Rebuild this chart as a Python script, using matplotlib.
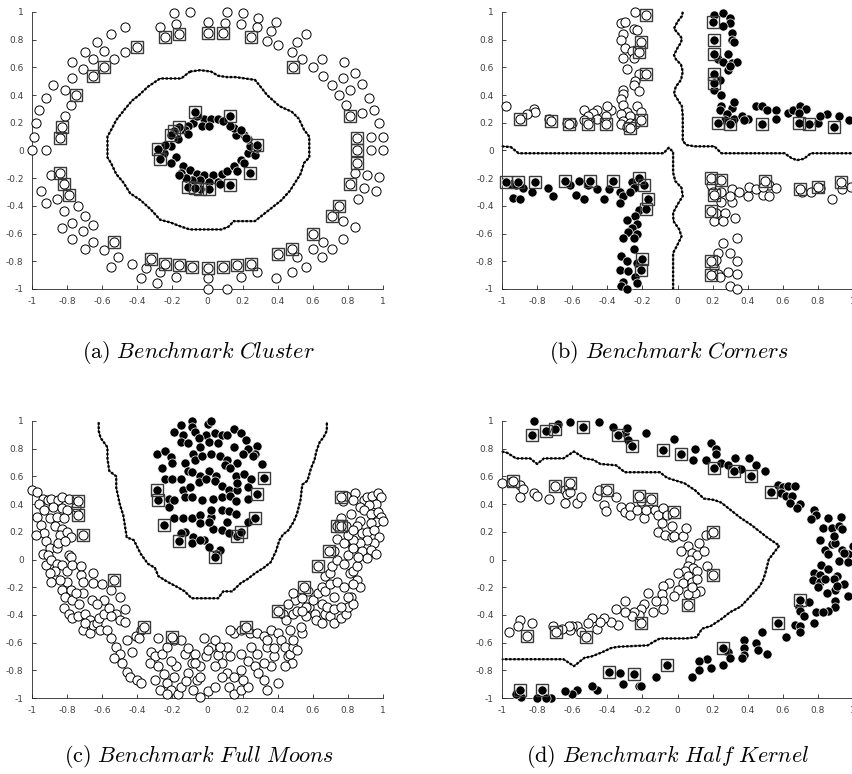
import numpy as np
import matplotlib
matplotlib.use('Agg')
import matplotlib.pyplot as plt

plt.rcParams['mathtext.fontset'] = 'cm'

# ---------------- data ----------------
tick_vals = [-1, -0.8, -0.6, -0.4, -0.2, 0, 0.2, 0.4, 0.6, 0.8, 1]
tick_labels = ['-1', '-0.8', '-0.6', '-0.4', '-0.2', '0', '0.2', '0.4', '0.6', '0.8', '1']

captions = [r'$\mathrm{(a)}\ Benchmark\ Cluster$',
            r'$\mathrm{(b)}\ Benchmark\ Corners$',
            r'$\mathrm{(c)}\ Benchmark\ Full\ Moons$',
            r'$\mathrm{(d)}\ Benchmark\ Half\ Kernel$']

# (a) cluster
a_white = [(-0.19, 0.99), (-0.10, 1.0), (0.11, 1.0), (0.20, 0.99), (0.29, 0.96), (0.39, 0.93), (0.0, 0.93),
           (-0.27, 0.89), (-0.18, 0.91), (0.10, 0.92), (0.19, 0.91), (0.28, 0.89), (-0.47, 0.89), (-0.55, 0.84),
           (0.36, 0.86), (0.34, 0.79), (0.40, 0.76), (0.56, 0.84), (0.51, 0.78), (-0.47, 0.71), (-0.63, 0.78),
           (-0.59, 0.72), (-0.70, 0.71), (-0.65, 0.66), (-0.53, 0.66), (-0.77, 0.64), (-0.71, 0.59), (0.48, 0.71),
           (0.54, 0.66), (0.65, 0.66), (0.60, 0.60), (0.66, 0.54), (0.78, 0.64), (0.84, 0.56), (0.77, 0.52),
           (0.71, 0.47), (0.81, 0.44), (0.88, 0.48), (0.92, 0.38), (0.75, 0.40), (0.79, 0.33), (0.95, 0.29),
           (0.88, 0.27), (0.98, 0.20), (0.93, 0.10), (1.0, 0.10), (0.93, 0.0), (1.0, 0.0), (0.84, -0.16),
           (0.91, -0.18), (0.98, -0.19), (0.89, -0.27), (0.96, -0.29), (0.86, -0.35), (0.77, -0.51), (0.84, -0.55),
           (0.77, -0.64), (0.71, -0.71), (0.66, -0.66), (0.65, -0.77), (0.60, -0.71), (0.56, -0.84), (0.51, -0.77),
           (0.48, -0.88), (0.39, -0.92), (0.19, -0.91), (0.28, -0.88), (0.0, -0.92), (0.0, -1.0), (0.11, -1.0),
           (-0.18, -0.91), (-0.27, -0.88), (-0.29, -0.96), (-0.38, -0.92), (-0.35, -0.85), (-0.43, -0.82),
           (-0.55, -0.84), (-0.51, -0.77), (-0.59, -0.72), (-0.65, -0.66), (-0.70, -0.71), (-0.71, -0.58),
           (-0.77, -0.64), (-0.65, -0.54), (-0.70, -0.47), (-0.77, -0.52), (-0.83, -0.56), (-0.74, -0.40),
           (-0.82, -0.44), (-0.86, -0.35), (-0.92, -0.38), (-0.95, -0.29), (-0.89, -0.18), (-0.92, 0.0),
           (-1.0, 0.0), (-0.99, 0.10), (-0.98, 0.20), (-0.96, 0.29), (-0.92, 0.38), (-0.88, 0.47), (-0.81, 0.25),
           (-0.78, 0.33), (-0.77, 0.52), (-0.81, 0.44)]
a_white_sv = [(-0.24, 0.82), (-0.16, 0.84), (0.0, 0.85), (0.09, 0.85), (0.25, 0.82), (-0.40, 0.75), (-0.59, 0.60),
              (-0.65, 0.54), (0.49, 0.60), (0.81, 0.25), (0.85, 0.09), (0.85, 0.0), (0.85, -0.09), (0.81, -0.24),
              (0.75, -0.40), (0.71, -0.47), (0.60, -0.60), (0.48, -0.71), (0.40, -0.75), (0.25, -0.82),
              (0.17, -0.83), (0.09, -0.84), (0.0, -0.85), (-0.09, -0.84), (-0.16, -0.83), (-0.24, -0.82),
              (-0.32, -0.78), (-0.53, -0.66), (-0.79, -0.32), (-0.82, -0.24), (-0.84, -0.16), (-0.84, 0.09),
              (-0.83, 0.17), (-0.75, 0.40)]
a_black = [(-0.02, 0.23), (0.02, 0.23), (0.06, 0.23), (-0.03, 0.18), (0.01, 0.18), (-0.08, 0.20), (-0.11, 0.18),
           (-0.13, 0.15), (-0.17, 0.08), (-0.21, 0.03), (-0.18, -0.05), (-0.21, -0.09), (-0.14, -0.11),
           (-0.15, -0.16), (-0.10, -0.14), (-0.06, -0.17), (-0.02, -0.18), (0.03, -0.18), (0.08, -0.17),
           (0.11, -0.15), (0.15, -0.11), (0.19, -0.07), (0.23, -0.02), (0.24, 0.03), (0.23, 0.08), (0.21, 0.11),
           (0.16, 0.11), (0.15, 0.16), (0.13, 0.18), (0.09, 0.21), (0.19, 0.15), (0.22, 0.09), (0.27, -0.03),
           (0.21, -0.09), (0.17, -0.15), (0.06, -0.23), (0.01, -0.23), (-0.04, -0.21), (-0.09, -0.21),
           (-0.12, -0.20), (-0.16, -0.18), (-0.25, -0.02), (-0.24, 0.04), (-0.11, 0.12), (-0.06, 0.25),
           (0.07, -0.24), (0.28, 0.02)]
a_black_sv = [(-0.07, 0.28), (0.13, 0.25), (-0.16, 0.17), (-0.19, 0.14), (-0.21, 0.11), (-0.28, 0.01),
              (-0.27, -0.06), (0.28, 0.04), (0.24, -0.16), (0.13, -0.25), (0.01, -0.28), (-0.04, -0.28),
              (-0.11, -0.26), (-0.07, -0.27)]
a_bound = [(-0.10, 0.57), (-0.04, 0.58), (0.02, 0.57), (0.06, 0.54), (0.11, 0.53), (0.16, 0.53), (0.27, 0.51),
           (0.29, 0.48), (0.34, 0.40), (0.41, 0.32), (0.48, 0.28), (0.52, 0.23), (0.55, 0.15), (0.58, 0.10),
           (0.58, -0.05), (0.55, -0.09), (0.53, -0.17), (0.47, -0.29), (0.42, -0.36), (0.37, -0.41),
           (0.30, -0.48), (0.27, -0.51), (0.15, -0.51), (0.12, -0.55), (0.08, -0.57), (-0.10, -0.57),
           (-0.15, -0.55), (-0.21, -0.52), (-0.27, -0.50), (-0.32, -0.43), (-0.38, -0.36), (-0.44, -0.31),
           (-0.48, -0.23), (-0.52, -0.17), (-0.55, -0.09), (-0.57, -0.05), (-0.57, 0.10), (-0.54, 0.17),
           (-0.52, 0.22), (-0.47, 0.30), (-0.43, 0.36), (-0.39, 0.40), (-0.34, 0.46), (-0.27, 0.52),
           (-0.15, 0.52), (-0.10, 0.57)]

# (b) corners
b_white = [(-0.24, 1.0), (-0.32, 0.92), (-0.30, 0.93), (-0.25, 0.88), (-0.23, 0.87), (-0.31, 0.84),
           (-0.32, 0.80), (-0.30, 0.74), (-0.26, 0.72), (-0.31, 0.67), (-0.25, 0.67), (-0.29, 0.59),
           (-0.22, 0.55), (-0.24, 0.50), (-0.25, 0.47), (-0.31, 0.44), (-0.31, 0.41), (-0.22, 0.43),
           (-0.32, 0.37), (-0.31, 0.33), (-0.29, 0.28), (-0.23, 0.32), (-0.21, 0.28), (-0.32, 0.26),
           (-0.27, 0.25), (-0.31, 0.21), (-0.27, 0.20), (-0.32, 0.19), (-0.29, 0.17), (-0.24, 0.19),
           (-0.38, 0.29), (-0.41, 0.25), (-0.46, 0.29), (-0.48, 0.27), (-0.53, 0.29), (-0.51, 0.25),
           (-0.53, 0.22), (-0.46, 0.23), (-0.63, 0.20), (-0.60, 0.20), (-0.73, 0.23), (-0.82, 0.30),
           (-0.81, 0.28), (-0.86, 0.26), (-0.98, 0.32), (-0.40, 0.32), (0.19, -0.25), (0.20, -0.30),
           (0.25, -0.30), (0.31, -0.28), (0.25, -0.37), (0.31, -0.37), (0.35, -0.30), (0.30, -0.33),
           (0.40, -0.33), (0.41, -0.26), (0.45, -0.28), (0.49, -0.32), (0.52, -0.33), (0.52, -0.25),
           (0.56, -0.27), (0.49, -0.26), (0.71, -0.30), (0.76, -0.30), (0.81, -0.27), (0.88, -0.35),
           (0.94, -0.28), (0.99, -0.26), (0.21, -0.51), (0.22, -0.45), (0.27, -0.45), (0.26, -0.51),
           (0.33, -0.49), (0.34, -0.63), (0.26, -0.67), (0.23, -0.74), (0.30, -0.74), (0.34, -0.80),
           (0.21, -0.84), (0.22, -0.79), (0.23, -0.89), (0.29, -0.88), (0.34, -0.89), (0.24, -0.91),
           (0.30, -0.98), (0.34, -1.0)]
b_white_sv = [(-0.18, 0.98), (-0.21, 0.78), (-0.22, 0.71), (-0.18, 0.55), (-0.21, 0.22), (-0.27, 0.16),
              (-0.41, 0.19), (-0.51, 0.19), (-0.62, 0.19), (-0.72, 0.21), (-0.90, 0.23), (0.19, -0.20),
              (0.25, -0.21), (0.21, -0.32), (0.50, -0.22), (0.70, -0.28), (0.80, -0.26), (0.93, -0.23),
              (0.19, -0.44), (0.19, -0.80), (0.19, -0.90)]
b_black = [(0.21, 0.98), (0.26, 0.99), (0.30, 0.96), (0.30, 0.92), (0.26, 0.90), (0.31, 0.85), (0.31, 0.80),
           (0.32, 0.78), (0.29, 0.70), (0.23, 0.66), (0.26, 0.64), (0.31, 0.63), (0.34, 0.64), (0.29, 0.58),
           (0.30, 0.61), (0.24, 0.51), (0.21, 0.44), (0.25, 0.40), (0.25, 0.32), (0.31, 0.31), (0.32, 0.35),
           (0.24, 0.29), (0.28, 0.26), (0.32, 0.23), (0.27, 0.22), (0.37, 0.25), (0.40, 0.23), (0.38, 0.22),
           (0.45, 0.32), (0.48, 0.32), (0.51, 0.29), (0.56, 0.29), (0.56, 0.23), (0.63, 0.27), (0.66, 0.29),
           (0.70, 0.32), (0.73, 0.30), (0.69, 0.27), (0.80, 0.20), (0.85, 0.26), (0.92, 0.25), (0.98, 0.22),
           (0.81, 0.25), (-0.95, -0.24), (-0.92, -0.25), (-0.94, -0.34), (-0.90, -0.35), (-0.88, -0.27),
           (-0.83, -0.30), (-0.74, -0.27), (-0.71, -0.33), (-0.61, -0.25), (-0.58, -0.32), (-0.56, -0.22),
           (-0.53, -0.35), (-0.51, -0.25), (-0.46, -0.28), (-0.42, -0.35), (-0.39, -0.28), (-0.33, -0.30),
           (-0.31, -0.33), (-0.33, -0.38), (-0.26, -0.23), (-0.25, -0.27), (-0.27, -0.30), (-0.22, -0.43),
           (-0.24, -0.47), (-0.29, -0.50), (-0.23, -0.53), (-0.26, -0.56), (-0.28, -0.59), (-0.23, -0.60),
           (-0.25, -0.63), (-0.31, -0.63), (-0.25, -0.71), (-0.32, -0.76), (-0.29, -0.80), (-0.23, -0.81),
           (-0.33, -0.86), (-0.28, -0.87), (-0.24, -0.91), (-0.31, -0.95), (-0.32, -0.98), (-0.29, -1.0),
           (-0.23, -0.96)]
b_black_sv = [(0.20, 0.93), (0.21, 0.80), (0.21, 0.70), (0.21, 0.55), (0.21, 0.49), (0.23, 0.20), (0.30, 0.19),
              (0.48, 0.19), (0.69, 0.20), (0.75, 0.19), (0.89, 0.17), (-0.98, -0.23), (-0.91, -0.23),
              (-0.81, -0.23), (-0.64, -0.22), (-0.50, -0.22), (-0.37, -0.22), (-0.22, -0.20), (-0.19, -0.25),
              (-0.17, -0.35), (-0.18, -0.42), (-0.20, -0.78), (-0.21, -0.86)]
b_bound1 = [(0.03, 1.0), (0.025, 0.97), (0.0, 0.93), (-0.02, 0.88), (0.0, 0.85), (0.025, 0.81), (0.02, 0.78),
            (0.0, 0.74), (-0.02, 0.69), (-0.01, 0.66), (0.02, 0.62), (0.03, 0.57), (0.02, 0.51), (-0.01, 0.46),
            (-0.02, 0.41), (0.0, 0.37), (0.025, 0.32), (0.03, 0.25), (0.03, 0.13), (0.03, 0.07), (0.05, 0.04),
            (0.10, 0.03), (0.21, 0.03), (0.25, -0.02), (0.61, -0.02), (0.65, -0.055), (0.68, -0.07),
            (0.72, -0.06), (0.76, -0.02), (1.01, -0.02)]
b_bound2 = [(-1.0, 0.03), (-0.95, 0.025), (-0.905, -0.02), (-0.08, -0.02), (-0.05, 0.02), (-0.025, -0.01),
            (-0.025, -0.16), (-0.013, -0.22), (0.023, -0.27), (0.03, -0.33), (0.0, -0.39), (-0.025, -0.45),
            (-0.023, -0.51), (0.01, -0.57), (0.023, -0.62), (0.0, -0.68), (-0.025, -0.74), (-0.025, -1.0)]

# (c) full moons
c_black = [(-0.15, 0.97), (-0.09, 1.0), (-0.09, 0.96), (0.0, 0.98), (0.02, 1.0), (-0.01, 0.90), (0.04, 0.91),
           (0.15, 0.94), (0.19, 0.91), (-0.19, 0.92), (-0.14, 0.90), (-0.07, 0.92), (-0.05, 0.88), (0.08, 0.90),
           (0.11, 0.90), (-0.29, 0.76), (-0.24, 0.78), (-0.21, 0.74), (-0.15, 0.85), (-0.11, 0.84),
           (-0.04, 0.81), (0.01, 0.85), (0.06, 0.84), (0.15, 0.81), (0.22, 0.86), (0.23, 0.80), (0.28, 0.82),
           (0.27, 0.76), (-0.26, 0.66), (-0.20, 0.70), (-0.13, 0.70), (-0.08, 0.76), (-0.07, 0.72),
           (-0.03, 0.75), (0.02, 0.76), (0.07, 0.75), (0.11, 0.72), (0.17, 0.70), (0.20, 0.76), (0.26, 0.75),
           (0.31, 0.69), (-0.24, 0.58), (-0.20, 0.58), (-0.15, 0.58), (-0.11, 0.64), (-0.09, 0.63),
           (-0.04, 0.60), (0.01, 0.64), (0.05, 0.60), (0.10, 0.68), (0.13, 0.66), (0.16, 0.60), (0.21, 0.62),
           (0.25, 0.58), (-0.22, 0.44), (-0.22, 0.38), (-0.14, 0.50), (-0.10, 0.52), (-0.05, 0.56),
           (-0.01, 0.58), (0.04, 0.57), (0.08, 0.53), (0.12, 0.50), (0.17, 0.50), (0.23, 0.44), (-0.13, 0.45),
           (-0.09, 0.45), (-0.03, 0.43), (0.03, 0.44), (0.08, 0.45), (0.13, 0.46), (0.16, 0.42), (0.17, 0.55),
           (-0.19, 0.30), (-0.14, 0.30), (-0.09, 0.30), (-0.04, 0.32), (0.02, 0.31), (0.08, 0.36), (0.12, 0.35),
           (0.16, 0.33), (0.23, 0.27), (0.02, 0.36), (-0.13, 0.20), (-0.08, 0.16), (-0.02, 0.14), (0.03, 0.22),
           (0.08, 0.21), (0.12, 0.19), (-0.09, 0.12), (-0.04, 0.14), (0.01, 0.09), (0.07, 0.07), (0.05, 0.04),
           (-0.15, 0.19), (-0.04, 0.26), (0.01, 0.27), (0.11, 0.27), (-0.19, 0.43), (0.23, 0.52)]
c_black_sv = [(-0.29, 0.50), (-0.28, 0.43), (0.32, 0.59), (0.28, 0.47), (-0.25, 0.25), (0.27, 0.30),
              (-0.16, 0.13), (0.17, 0.17), (0.19, 0.20), (0.04, 0.02)]
c_white = [(-1.0, 0.50), (-0.97, 0.49), (-0.94, 0.44), (-0.96, 0.40), (-0.91, 0.43), (-0.89, 0.44),
           (-0.85, 0.43), (-0.93, 0.36), (-0.88, 0.38), (-0.83, 0.37), (-0.83, 0.45), (-0.79, 0.44),
           (-0.75, 0.38), (-0.80, 0.36), (-0.90, 0.30), (-0.86, 0.31), (-0.82, 0.30), (-0.97, 0.31),
           (-0.95, 0.25), (-0.93, 0.19), (-0.87, 0.24), (-0.83, 0.22), (-0.84, 0.18), (-0.80, 0.20),
           (-0.78, 0.16), (-0.98, 0.18), (-0.92, 0.13), (-0.90, 0.08), (-0.94, 0.04), (-0.91, 0.03),
           (-0.86, 0.08), (-0.85, 0.12), (-0.79, 0.03), (-0.78, 0.02), (-0.81, 0.13), (-0.92, -0.04),
           (-0.89, 0.0), (-0.86, -0.03), (-0.87, -0.08), (-0.90, -0.10), (-0.83, -0.04), (-0.80, -0.08),
           (-0.77, -0.04), (-0.72, -0.05), (-0.72, -0.11), (-0.71, -0.16), (-0.80, -0.16), (-0.84, -0.15),
           (-0.89, -0.16), (-0.83, -0.22), (-0.78, -0.22), (-0.81, -0.27), (-0.77, -0.29), (-0.73, -0.32),
           (-0.71, -0.24), (-0.75, -0.24), (-0.82, -0.35), (-0.79, -0.39), (-0.77, -0.42), (-0.74, -0.41),
           (-0.70, -0.39), (-0.67, -0.44), (-0.71, -0.51), (-0.67, -0.53), (-0.65, -0.47), (-0.63, -0.46),
           (-0.61, -0.51), (-0.57, -0.51), (-0.62, -0.42), (-0.59, -0.39), (-0.56, -0.35), (-0.52, -0.39),
           (-0.50, -0.44), (-0.47, -0.45), (-0.59, -0.29), (-0.65, -0.17), (-0.60, -0.18), (-0.50, -0.27),
           (-0.55, -0.22), (-0.66, -0.29), (-0.63, -0.32), (-0.70, -0.46), (-0.65, -0.10), (-0.55, -0.41),
           (-0.47, -0.36), (-0.55, -0.57), (-0.52, -0.63), (-0.50, -0.68), (-0.53, -0.71), (-0.49, -0.75),
           (-0.46, -0.81), (-0.44, -0.85), (-0.40, -0.87), (-0.38, -0.89), (-0.43, -0.67), (-0.46, -0.58),
           (-0.41, -0.55), (-0.38, -0.51), (-0.39, -0.57), (-0.28, -0.57), (-0.32, -0.67), (-0.30, -0.70),
           (-0.33, -0.75), (-0.28, -0.77), (-0.26, -0.68), (-0.25, -0.83), (-0.23, -0.89), (-0.27, -0.94),
           (-0.30, -0.87), (-0.21, -0.94), (-0.17, -0.97), (-0.15, -0.92), (-0.19, -0.85), (-0.18, -0.77),
           (-0.21, -0.73), (-0.23, -0.63), (-0.19, -0.58), (-0.15, -0.58), (-0.13, -0.68), (-0.09, -0.75),
           (-0.11, -0.82), (-0.06, -0.87), (-0.08, -0.94), (-0.04, -0.99), (0.0, -0.95), (0.04, -0.92),
           (-0.04, -0.77), (-0.01, -0.70), (0.02, -0.63), (0.06, -0.69), (0.08, -0.75), (0.11, -0.82),
           (0.12, -0.92), (0.15, -0.97), (0.19, -0.94), (0.23, -0.92), (0.15, -0.85), (0.19, -0.80),
           (0.23, -0.73), (0.27, -0.77), (0.29, -0.82), (0.32, -0.87), (0.34, -0.94), (0.40, -0.89),
           (0.36, -0.77), (0.38, -0.70), (0.34, -0.63), (0.28, -0.68), (0.25, -0.63), (0.19, -0.68),
           (0.13, -0.70), (0.11, -0.63), (0.15, -0.53), (0.19, -0.51), (0.24, -0.53), (0.28, -0.53),
           (0.32, -0.55), (0.34, -0.58), (0.36, -0.51), (0.40, -0.53), (0.42, -0.58), (0.44, -0.63),
           (0.46, -0.70), (0.48, -0.75), (0.47, -0.68), (0.49, -0.63), (0.44, -0.77), (0.38, -0.64),
           (-0.02, -0.57), (0.04, -0.58), (0.07, -0.63), (0.0, -0.65), (-0.07, -0.68), (-0.11, -0.64),
           (0.13, -0.51), (-0.07, -0.75), (0.04, -0.77), (-0.04, -0.85), (-0.12, -0.88), (-0.23, -0.97),
           (0.08, -0.85), (0.20, -0.87), (0.32, -0.75), (0.43, -0.39), (0.45, -0.44), (0.47, -0.51),
           (0.49, -0.58), (0.51, -0.65), (0.54, -0.53), (0.53, -0.49), (0.50, -0.29), (0.49, -0.39),
           (0.46, -0.32), (0.51, -0.37), (0.56, -0.41), (0.58, -0.34), (0.60, -0.29), (0.61, -0.39),
           (0.62, -0.44), (0.65, -0.46), (0.67, -0.39), (0.70, -0.41), (0.72, -0.46), (0.76, -0.42),
           (0.79, -0.39), (0.65, -0.32), (0.68, -0.34), (0.72, -0.36), (0.80, -0.34), (0.76, -0.34),
           (0.63, -0.24), (0.65, -0.20), (0.67, -0.23), (0.70, -0.18), (0.74, -0.16), (0.78, -0.20),
           (0.82, -0.27), (0.83, -0.32), (0.80, -0.27), (0.72, -0.27), (0.67, -0.12), (0.70, -0.10),
           (0.71, -0.05), (0.74, 0.0), (0.78, -0.03), (0.81, -0.10), (0.83, -0.08), (0.85, -0.15),
           (0.87, -0.20), (0.83, -0.18), (0.72, 0.06), (0.83, 0.09), (0.80, 0.03), (0.85, -0.05), (0.74, 0.15),
           (0.78, 0.12), (0.57, -0.23), (0.54, -0.28), (0.56, -0.34), (0.49, -0.24), (0.54, -0.37),
           (0.76, 0.30), (0.79, 0.24), (0.77, 0.42), (0.79, 0.46), (0.84, 0.48), (0.89, 0.43), (0.91, 0.45),
           (0.94, 0.46), (0.97, 0.48), (0.99, 0.45), (0.96, 0.40), (0.92, 0.39), (0.87, 0.38), (0.89, 0.36),
           (0.93, 0.33), (0.97, 0.34), (0.99, 0.31), (0.96, 0.27), (0.93, 0.26), (0.87, 0.28), (0.85, 0.24),
           (0.88, 0.19), (0.91, 0.20), (0.95, 0.21), (0.98, 0.16), (0.95, 0.12), (0.91, 0.14), (0.87, 0.12),
           (0.83, 0.14), (0.80, 0.18), (0.83, 0.08), (0.88, 0.06), (0.93, 0.07), (0.96, 0.04), (1.0, 0.28),
           (0.83, 0.21), (0.91, 0.01), (0.86, 0.02), (0.82, 0.33), (0.83, 0.43)]
c_white_sv = [(-0.74, 0.42), (-0.74, 0.32), (-0.71, 0.18), (-0.53, -0.15), (-0.36, -0.49), (-0.20, -0.56),
              (0.22, -0.49), (0.40, -0.37), (0.55, -0.20), (0.63, -0.05), (0.69, 0.06), (0.74, 0.24),
              (0.76, 0.24), (0.76, 0.45)]
c_bound = [(-0.62, 0.99), (-0.62, 0.93), (-0.61, 0.88), (-0.57, 0.81), (-0.57, 0.73), (-0.56, 0.64),
           (-0.52, 0.60), (-0.52, 0.52), (-0.50, 0.40), (-0.48, 0.32), (-0.47, 0.24), (-0.46, 0.16),
           (-0.42, 0.14), (-0.40, 0.09), (-0.38, 0.04), (-0.34, -0.03), (-0.30, -0.06), (-0.28, -0.12),
           (-0.23, -0.16), (-0.17, -0.20), (-0.13, -0.23), (-0.09, -0.28), (0.06, -0.28), (0.09, -0.23),
           (0.14, -0.23), (0.19, -0.17), (0.23, -0.14), (0.27, -0.10), (0.32, -0.06), (0.36, -0.02),
           (0.39, 0.06), (0.41, 0.14), (0.43, 0.18), (0.46, 0.21), (0.49, 0.27), (0.51, 0.33), (0.53, 0.43),
           (0.54, 0.54), (0.57, 0.57), (0.59, 0.66), (0.61, 0.72), (0.62, 0.78), (0.64, 0.85), (0.66, 0.88),
           (0.68, 0.93), (0.68, 0.99)]

# (d) half kernel
d_black = [(-0.82, 1.0), (-0.68, 0.98), (-0.61, 0.99), (-0.45, 0.99), (-0.37, 0.96), (-0.30, 0.91),
           (-0.29, 0.95), (-0.28, 0.86), (-0.18, 0.91), (-0.02, 0.87), (0.09, 0.72), (0.10, 0.80), (0.16, 0.72),
           (0.19, 0.84), (0.22, 0.80), (0.22, 0.76), (0.25, 0.70), (0.29, 0.68), (0.33, 0.73), (0.36, 0.65),
           (0.41, 0.73), (0.45, 0.68), (0.50, 0.64), (0.57, 0.54), (0.60, 0.52), (0.63, 0.53), (0.67, 0.53),
           (0.59, 0.48), (0.62, 0.46), (0.65, 0.46), (0.64, 0.41), (0.70, 0.40), (0.68, 0.37), (0.78, 0.36),
           (0.79, 0.32), (0.76, 0.29), (0.86, 0.30), (0.93, 0.31), (0.83, 0.23), (0.88, 0.23), (0.92, 0.24),
           (0.94, 0.22), (0.81, 0.14), (0.84, 0.07), (0.88, 0.11), (0.90, 0.12), (0.86, 0.04), (0.94, 0.07),
           (0.97, 0.04), (1.0, 0.10), (0.95, 0.05), (0.92, -0.01), (0.97, -0.02), (0.82, -0.04), (0.78, -0.10),
           (0.81, -0.11), (0.86, -0.07), (0.91, -0.12), (0.89, -0.14), (0.77, -0.15), (0.81, -0.16),
           (0.84, -0.14), (0.95, -0.18), (0.80, -0.20), (0.90, -0.22), (0.85, -0.24), (0.97, -0.26),
           (0.90, -0.30), (0.90, -0.34), (0.75, -0.31), (0.69, -0.34), (0.70, -0.37), (0.72, -0.41),
           (0.79, -0.38), (0.86, -0.37), (0.83, -0.38), (0.67, -0.47), (0.70, -0.48), (0.78, -0.46),
           (0.70, -0.52), (0.62, -0.56), (0.48, -0.52), (0.45, -0.60), (0.51, -0.68), (0.46, -0.65),
           (0.38, -0.58), (0.38, -0.64), (0.38, -0.69), (0.37, -0.71), (0.29, -0.67), (0.30, -0.71),
           (0.26, -0.76), (0.17, -0.72), (0.12, -0.73), (0.12, -0.80), (0.19, -0.78), (0.08, -0.85),
           (-0.12, -0.85), (-0.22, -0.91), (-0.21, -0.91), (-0.33, -0.82), (-0.31, -0.90), (-0.46, -0.94),
           (-0.49, -0.91), (-0.57, -0.94), (-0.60, -0.97), (-0.64, -0.95), (-0.72, -1.0), (-0.80, -1.0),
           (-0.89, -0.99), (-0.92, -0.97), (-0.75, -1.0), (0.91, -0.19), (0.89, 0.17)]
d_black_sv = [(-0.83, 0.90), (-0.75, 0.93), (-0.70, 0.94), (-0.54, 0.96), (-0.34, 0.90), (-0.26, 0.82),
              (-0.08, 0.79), (0.02, 0.76), (0.21, 0.66), (0.32, 0.64), (0.42, 0.60), (0.53, 0.49),
              (0.70, -0.29), (0.57, -0.46), (0.26, -0.64), (-0.06, -0.76), (-0.25, -0.83), (-0.39, -0.81),
              (-0.77, -0.94), (-0.90, -0.94)]
d_white = [(-1.0, 0.55), (-0.95, 0.56), (-0.90, 0.54), (-0.88, 0.51), (-0.90, 0.45), (-0.82, 0.48),
           (-0.80, 0.46), (-0.73, 0.44), (-0.64, 0.50), (-0.63, 0.47), (-0.64, 0.41), (-0.57, 0.41),
           (-0.55, 0.45), (-0.46, 0.46), (-0.45, 0.50), (-0.42, 0.39), (-0.41, 0.35), (-0.35, 0.45),
           (-0.32, 0.38), (-0.30, 0.34), (-0.27, 0.38), (-0.27, 0.32), (-0.23, 0.36), (-0.21, 0.42),
           (-0.19, 0.30), (-0.18, 0.36), (-0.13, 0.36), (-0.11, 0.32), (-0.08, 0.37), (-0.09, 0.26),
           (-0.06, 0.32), (-0.03, 0.24), (-0.11, 0.20), (-0.07, 0.18), (-0.03, 0.16), (-0.02, 0.17),
           (0.03, 0.17), (0.05, 0.23), (0.12, 0.12), (0.16, 0.18), (0.06, 0.10), (0.02, 0.06), (0.08, 0.05),
           (0.11, 0.03), (0.15, 0.06), (0.07, 0.0), (0.17, -0.05), (0.06, -0.05), (0.09, -0.06), (0.11, -0.08),
           (0.04, -0.08), (0.0, -0.10), (0.06, -0.12), (0.03, -0.17), (0.08, -0.16), (0.11, -0.14),
           (0.13, -0.23), (0.10, -0.24), (0.06, -0.25), (0.08, -0.20), (0.0, -0.22), (-0.02, -0.26),
           (-0.05, -0.17), (-0.08, -0.19), (-0.09, -0.25), (-0.08, -0.30), (-0.08, -0.36), (-0.12, -0.30),
           (-0.14, -0.38), (-0.17, -0.24), (-0.19, -0.32), (-0.21, -0.36), (-0.22, -0.40), (-0.25, -0.38),
           (-0.26, -0.41), (-0.30, -0.30), (-0.30, -0.38), (-0.35, -0.36), (-0.34, -0.47), (-0.38, -0.45),
           (-0.42, -0.42), (-0.46, -0.50), (-0.44, -0.45), (-0.49, -0.42), (-0.51, -0.46), (-0.57, -0.48),
           (-0.55, -0.52), (-0.60, -0.48), (-0.61, -0.51), (-0.62, -0.48), (-0.66, -0.50), (-0.71, -0.48),
           (-0.83, -0.46), (-0.90, -0.44), (-0.91, -0.48), (-0.96, -0.52), (-0.61, 0.49)]
d_white_sv = [(-0.94, 0.57), (-0.70, 0.53), (-0.61, 0.55), (-0.40, 0.50), (-0.22, 0.46), (-0.15, 0.44),
              (-0.02, 0.34), (0.20, 0.20), (0.20, -0.11), (0.06, -0.33), (-0.21, -0.46), (-0.52, -0.56),
              (-0.69, -0.52), (-0.86, -0.55)]
d_bound = [(-1.0, 0.78), (-0.97, 0.77), (-0.92, 0.73), (-0.84, 0.73), (-0.80, 0.69), (-0.76, 0.73),
           (-0.65, 0.73), (-0.59, 0.78), (-0.53, 0.73), (-0.48, 0.72), (-0.44, 0.69), (-0.35, 0.68),
           (-0.30, 0.63), (-0.10, 0.63), (-0.06, 0.59), (0.04, 0.55), (0.10, 0.50), (0.15, 0.44), (0.21, 0.43),
           (0.25, 0.41), (0.30, 0.36), (0.36, 0.30), (0.42, 0.25), (0.51, 0.16), (0.58, 0.10), (0.55, 0.05),
           (0.52, 0.0), (0.50, -0.10), (0.49, -0.14), (0.47, -0.19), (0.42, -0.26), (0.36, -0.34),
           (0.30, -0.38), (0.25, -0.43), (0.19, -0.48), (0.14, -0.50), (0.11, -0.56), (0.05, -0.57),
           (-0.10, -0.57), (-0.13, -0.59), (-0.17, -0.62), (-0.34, -0.63), (-0.38, -0.64), (-0.43, -0.67),
           (-0.49, -0.70), (-0.53, -0.71), (-0.59, -0.77), (-0.65, -0.72), (-1.0, -0.72)]

panels = [
    dict(white=a_white, white_sv=a_white_sv, black=a_black, black_sv=a_black_sv, bounds=[a_bound]),
    dict(white=b_white, white_sv=b_white_sv, black=b_black, black_sv=b_black_sv, bounds=[b_bound1, b_bound2]),
    dict(white=c_white, white_sv=c_white_sv, black=c_black, black_sv=c_black_sv, bounds=[c_bound]),
    dict(white=d_white, white_sv=d_white_sv, black=d_black, black_sv=d_black_sv, bounds=[d_bound]),
]

# ---------------- figure ----------------
W, H = 852, 774
fig = plt.figure(figsize=(W / 100, H / 100), dpi=100)

# axes boxes in pixels: left, top, width, height
boxes = [(32, 12, 351, 277), (502, 12, 351, 277), (32, 421, 351, 277), (502, 421, 351, 277)]
cap_pos = [(198, 352), (669, 352), (199, 756), (668, 756)]

ms_circ = 6.6
ms_sq = 9.2

for i, (p, box) in enumerate(zip(panels, boxes)):
    l, t, w, h = box
    ax = fig.add_axes([l / W, 1 - (t + h) / H, w / W, h / H])
    ax.set_xlim(-1, 1)
    ax.set_ylim(-1, 1)

    for bd in p['bounds']:
        bx, by = zip(*bd)
        ax.plot(bx, by, color='black', lw=0.7, zorder=2, clip_on=False)
        ax.plot(bx, by, color='black', lw=1.7, linestyle=(0, (1, 0.75)), zorder=2, clip_on=False)

    wx, wy = zip(*(p['white'] + p['white_sv']))
    ax.plot(wx, wy, 'o', ms=ms_circ, mfc='white', mec='black', mew=0.7, zorder=3, clip_on=False)
    kx, ky = zip(*(p['black'] + p['black_sv']))
    ax.plot(kx, ky, 'o', ms=ms_circ, mfc='black', mec='white', mew=0.5, zorder=3, clip_on=False)
    sx, sy = zip(*(p['white_sv'] + p['black_sv']))
    ax.plot(sx, sy, 's', ms=ms_sq, mfc='none', mec='#3a3a3a', mew=1.0, zorder=4, clip_on=False)

    for s in ['top', 'right']:
        ax.spines[s].set_visible(False)
    for s in ['left', 'bottom']:
        ax.spines[s].set_color('#262626')
        ax.spines[s].set_linewidth(0.6)
    ax.set_xticks(tick_vals)
    ax.set_xticklabels(tick_labels)
    ax.set_yticks(tick_vals)
    ax.set_yticklabels(tick_labels)
    ax.tick_params(direction='in', length=3, width=0.6, color='#262626', labelsize=6.5,
                   labelcolor='#404040', pad=6)
    for lab in ax.get_xticklabels() + ax.get_yticklabels():
        lab.set_family(['Liberation Sans Narrow', 'DejaVu Sans'])

    cx, cy = cap_pos[i]
    fig.text(cx / W, 1 - cy / H, captions[i], ha='center', va='center', fontsize=16)

fig.savefig('out.png', dpi=100)
